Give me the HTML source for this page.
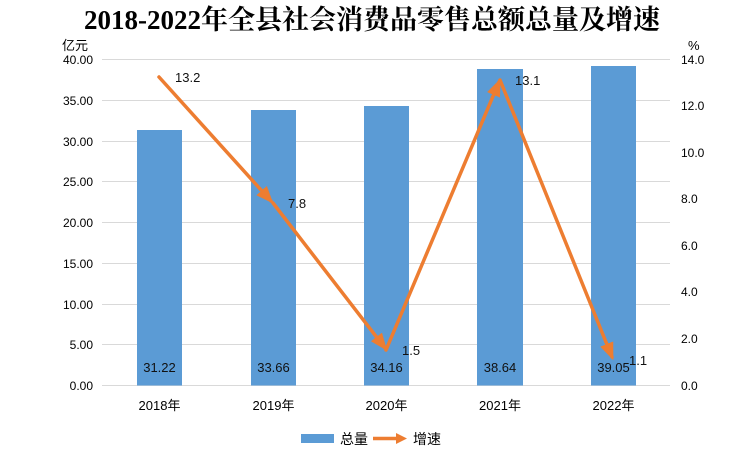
<!DOCTYPE html>
<html><head><meta charset="utf-8"><style>
body{margin:0;background:#fff}
svg{display:block;font-family:"Liberation Sans","Noto Sans CJK SC",sans-serif}
</style></head><body>
<svg width="745" height="460" viewBox="0 0 745 460">
<defs><marker id="ah" markerWidth="5" markerHeight="5" refX="4" refY="2.5" orient="auto" markerUnits="strokeWidth"><path d="M0,0.5 L5,2.5 L0,4.5 Z" fill="#ED7D31"/></marker></defs>
<text x="372" y="29" text-anchor="middle" font-family="Liberation Serif,Noto Serif CJK SC,serif" font-size="27" font-weight="bold">2018-2022年全县社会消费品零售总额总量及增速</text>
<text x="62" y="50" font-size="13">亿元</text>
<text x="688" y="50" font-size="13">%</text>
<g stroke="#d9d9d9" stroke-width="1">
<line x1="102" x2="670" y1="59.5" y2="59.5"/><line x1="102" x2="670" y1="100.5" y2="100.5"/><line x1="102" x2="670" y1="141.5" y2="141.5"/><line x1="102" x2="670" y1="181.5" y2="181.5"/><line x1="102" x2="670" y1="222.5" y2="222.5"/><line x1="102" x2="670" y1="263.5" y2="263.5"/><line x1="102" x2="670" y1="304.5" y2="304.5"/><line x1="102" x2="670" y1="344.5" y2="344.5"/><line x1="102" x2="670" y1="385.5" y2="385.5"/>
</g>
<g font-size="12" text-anchor="end">
<text x="93" y="64">40.00</text><text x="93" y="105">35.00</text><text x="93" y="146">30.00</text><text x="93" y="186">25.00</text><text x="93" y="227">20.00</text><text x="93" y="268">15.00</text><text x="93" y="309">10.00</text><text x="93" y="349">5.00</text><text x="93" y="390">0.00</text>
</g>
<g font-size="12">
<text x="681" y="64">14.0</text><text x="681" y="110">12.0</text><text x="681" y="157">10.0</text><text x="681" y="203">8.0</text><text x="681" y="250">6.0</text><text x="681" y="296">4.0</text><text x="681" y="343">2.0</text><text x="681" y="390">0.0</text>
</g>
<g fill="#5B9BD5">
<rect x="137" y="130" width="45" height="255.5"/>
<rect x="251" y="110" width="45" height="275.5"/>
<rect x="364" y="106" width="45" height="279.5"/>
<rect x="477" y="69" width="46" height="316.5"/>
<rect x="591" y="66" width="45" height="319.5"/>
</g>
<g font-size="13" text-anchor="middle" fill="#111">
<text x="159.5" y="372">31.22</text><text x="273.5" y="372">33.66</text><text x="386.5" y="372">34.16</text><text x="500" y="372">38.64</text><text x="613.5" y="372">39.05</text>
</g>
<g stroke="#ED7D31" stroke-width="3.5" stroke-linecap="round" fill="none">
<line x1="159" y1="77" x2="271" y2="201" marker-end="url(#ah)"/>
<line x1="273" y1="203" x2="385" y2="348" marker-end="url(#ah)"/>
<line x1="386" y1="350" x2="499" y2="82" marker-end="url(#ah)"/>
<line x1="500" y1="80" x2="612" y2="357" marker-end="url(#ah)"/>
</g>
<g font-size="13" fill="#111">
<text x="175" y="82">13.2</text><text x="288" y="208">7.8</text><text x="402" y="355">1.5</text><text x="515" y="85">13.1</text><text x="629" y="365">1.1</text>
</g>
<g font-size="13" text-anchor="middle">
<text x="159.5" y="410">2018年</text><text x="273.5" y="410">2019年</text><text x="386.5" y="410">2020年</text><text x="500" y="410">2021年</text><text x="613.5" y="410">2022年</text>
</g>
<rect x="301" y="434" width="33" height="9" fill="#5B9BD5"/>
<text x="340" y="444" font-size="14">总量</text>
<line x1="373" y1="438.5" x2="398" y2="438.5" stroke="#ED7D31" stroke-width="3.5"/>
<path d="M396,433 L407,438.5 L396,444 Z" fill="#ED7D31"/>
<text x="413" y="444" font-size="14">增速</text>
</svg>
</body></html>
